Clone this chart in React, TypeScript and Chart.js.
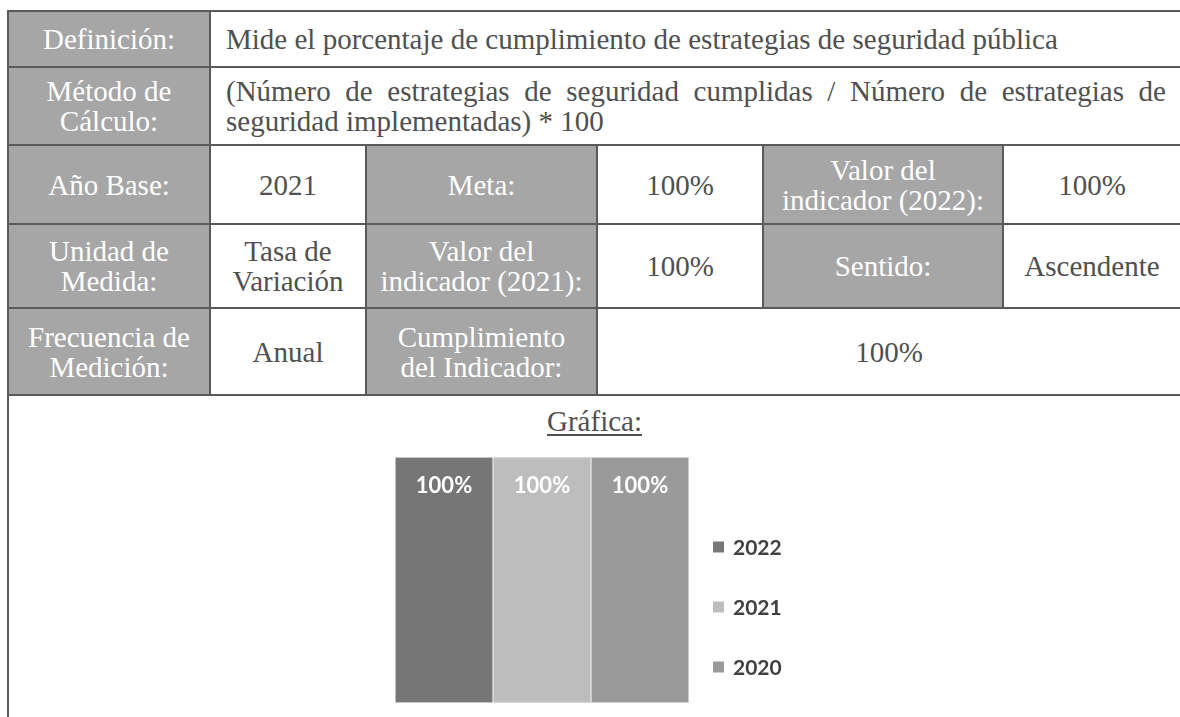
import React, { useEffect, useRef } from "react";
import { Chart, registerables } from "chart.js";

Chart.register(...registerables);

// ---- chart data ----
const categories = [""];
const seriesLabels = ["2022", "2021", "2020"];
const values2022 = [100];
const values2021 = [100];
const values2020 = [100];
const seriesColors = ["#767676", "#bdbdbd", "#9a9a9a"];

// ---- table text ----
const definicion = "Mide el porcentaje de cumplimiento de estrategias de seguridad pública";
const metodo =
  "(Número de estrategias de seguridad cumplidas / Número de estrategias de seguridad implementadas) * 100";

const LINE = "#5a5a5a";
const HEAD = "#a6a6a6";
const TXT = "#505050";
const FONT = "'Liberation Serif', serif";
const FS = 29;
const LH = "30px";

const valueLabelPlugin = {
  id: "valueLabels",
  afterDatasetsDraw(chart: any) {
    const ctx = chart.ctx;
    ctx.save();
    ctx.font = "bold 22px Lato";
    ctx.fillStyle = "#ffffff";
    ctx.textAlign = "center";
    ctx.textBaseline = "middle";
    chart.data.datasets.forEach((ds: any, i: number) => {
      const meta = chart.getDatasetMeta(i);
      meta.data.forEach((bar: any, j: number) => {
        ctx.fillText(ds.data[j] + "%", bar.x, bar.y + 29);
      });
    });
    ctx.restore();
  },
};

const sideLegendPlugin = {
  id: "sideLegend",
  afterDraw(chart: any) {
    const { ctx, chartArea } = chart;
    ctx.save();
    const x = chartArea.right + 24;
    const y0 = chartArea.top + 90;
    chart.data.datasets.forEach((ds: any, i: number) => {
      const y = y0 + i * 60;
      ctx.fillStyle = ds.backgroundColor;
      ctx.fillRect(x, y - 5.5, 11, 11);
      ctx.fillStyle = "#404040";
      ctx.font = "bold 21px Lato";
      ctx.textBaseline = "middle";
      ctx.textAlign = "left";
      ctx.fillText(ds.label, x + 20, y + 1);
    });
    ctx.restore();
  },
};

function BarChart() {
  const ref = useRef<HTMLCanvasElement>(null);
  useEffect(() => {
    if (!ref.current) return;
    const series = [values2022, values2021, values2020];
    const chart = new Chart(ref.current, {
      type: "bar",
      data: {
        labels: categories,
        datasets: series.map((vals, i) => ({
          label: seriesLabels[i],
          data: vals,
          backgroundColor: seriesColors[i],
          borderColor: "#e4e4e4",
          borderWidth: 1,
          borderSkipped: false,
          barPercentage: 1,
          categoryPercentage: 1,
        })),
      },
      options: {
        animation: false,
        responsive: false,
        maintainAspectRatio: false,
        layout: { padding: { left: 0, right: 126, top: 0, bottom: 0 } },
        plugins: {
          legend: { display: false },
          tooltip: { enabled: false },
        },
        scales: {
          x: { display: false },
          y: { display: false, min: 0, max: 100 },
        },
      },
      plugins: [valueLabelPlugin, sideLegendPlugin],
    });
    return () => chart.destroy();
  }, []);
  return (
    <canvas
      ref={ref}
      width={420}
      height={246}
      style={{ position: "absolute", left: 395, top: 457, width: 420, height: 246 }}
    />
  );
}

type CellProps = {
  x1: number;
  x2: number;
  y1: number;
  y2: number;
  head?: boolean;
  children: React.ReactNode;
};

function Cell({ x1, x2, y1, y2, head, children }: CellProps) {
  return (
    <div
      style={{
        position: "absolute",
        left: x1,
        top: y1,
        width: x2 - x1,
        height: y2 - y1,
        background: head ? HEAD : "#ffffff",
        color: head ? "#ffffff" : TXT,
        display: "flex",
        alignItems: "center",
        justifyContent: "center",
        textAlign: "center",
        fontFamily: FONT,
        fontSize: FS,
        lineHeight: LH,
        whiteSpace: "nowrap",
      }}
    >
      <div>{children}</div>
    </div>
  );
}

function HLine({ y, x1, x2 }: { y: number; x1: number; x2: number }) {
  return (
    <div style={{ position: "absolute", left: x1 - 1, top: y - 1, width: x2 - x1 + 2, height: 2, background: LINE }} />
  );
}
function VLine({ x, y1, y2 }: { x: number; y1: number; y2: number }) {
  return (
    <div style={{ position: "absolute", left: x - 1, top: y1 - 1, width: 2, height: y2 - y1 + 2, background: LINE }} />
  );
}

export default function App() {
  const X = [8, 210, 366, 597, 763, 1003, 1181];
  const Y = [11, 67, 145, 224, 308, 395, 740];
  return (
    <div
      style={{
        position: "absolute",
        left: 0,
        top: 0,
        width: 1180,
        height: 717,
        overflow: "hidden",
        background: "#ffffff",
      }}
    >
      {/* row 1 */}
      <Cell x1={X[0]} x2={X[1]} y1={Y[0]} y2={Y[1]} head>Definición:</Cell>
      <div
        style={{
          position: "absolute",
          left: 226,
          top: Y[0],
          width: 940,
          height: Y[1] - Y[0],
          display: "flex",
          alignItems: "center",
          fontFamily: FONT,
          fontSize: FS,
          color: TXT,
          whiteSpace: "nowrap",
        }}
      >
        {definicion}
      </div>
      {/* row 2 */}
      <Cell x1={X[0]} x2={X[1]} y1={Y[1]} y2={Y[2]} head>
        Método de<br />Cálculo:
      </Cell>
      <div
        style={{
          position: "absolute",
          left: 226,
          top: Y[1],
          width: 940,
          height: Y[2] - Y[1],
          display: "flex",
          alignItems: "center",
          fontFamily: FONT,
          fontSize: FS,
          lineHeight: LH,
          color: TXT,
        }}
      >
        <div style={{ textAlign: "justify", textAlignLast: "left", width: "100%" }}>{metodo}</div>
      </div>
      {/* row 3 */}
      <Cell x1={X[0]} x2={X[1]} y1={Y[2]} y2={Y[3]} head>Año Base:</Cell>
      <Cell x1={X[1]} x2={X[2]} y1={Y[2]} y2={Y[3]}>2021</Cell>
      <Cell x1={X[2]} x2={X[3]} y1={Y[2]} y2={Y[3]} head>Meta:</Cell>
      <Cell x1={X[3]} x2={X[4]} y1={Y[2]} y2={Y[3]}>100%</Cell>
      <Cell x1={X[4]} x2={X[5]} y1={Y[2]} y2={Y[3]} head>
        Valor del<br />indicador (2022):
      </Cell>
      <Cell x1={X[5]} x2={X[6]} y1={Y[2]} y2={Y[3]}>100%</Cell>
      {/* row 4 */}
      <Cell x1={X[0]} x2={X[1]} y1={Y[3]} y2={Y[4]} head>
        Unidad de<br />Medida:
      </Cell>
      <Cell x1={X[1]} x2={X[2]} y1={Y[3]} y2={Y[4]}>
        Tasa de<br />Variación
      </Cell>
      <Cell x1={X[2]} x2={X[3]} y1={Y[3]} y2={Y[4]} head>
        Valor del<br />indicador (2021):
      </Cell>
      <Cell x1={X[3]} x2={X[4]} y1={Y[3]} y2={Y[4]}>100%</Cell>
      <Cell x1={X[4]} x2={X[5]} y1={Y[3]} y2={Y[4]} head>Sentido:</Cell>
      <Cell x1={X[5]} x2={X[6]} y1={Y[3]} y2={Y[4]}>Ascendente</Cell>
      {/* row 5 */}
      <Cell x1={X[0]} x2={X[1]} y1={Y[4]} y2={Y[5]} head>
        Frecuencia de<br />Medición:
      </Cell>
      <Cell x1={X[1]} x2={X[2]} y1={Y[4]} y2={Y[5]}>Anual</Cell>
      <Cell x1={X[2]} x2={X[3]} y1={Y[4]} y2={Y[5]} head>
        Cumplimiento<br />del Indicador:
      </Cell>
      <Cell x1={X[3]} x2={X[6]} y1={Y[4]} y2={Y[5]}>100%</Cell>
      {/* row 6 */}
      <div
        style={{
          position: "absolute",
          left: X[0],
          top: 407,
          width: X[6] - X[0],
          textAlign: "center",
          fontFamily: FONT,
          fontSize: FS,
          lineHeight: "29px",
          color: TXT,
        }}
      >
        <span style={{ textDecoration: "underline", textUnderlineOffset: 3 }}>Gráfica:</span>
      </div>
      <BarChart />
      {/* grid lines */}
      {Y.slice(0, 6).map((y) => (
        <HLine key={"h" + y} y={y} x1={X[0]} x2={X[6]} />
      ))}
      <VLine x={X[0]} y1={Y[0]} y2={Y[6]} />
      <VLine x={X[6]} y1={Y[0]} y2={Y[6]} />
      <VLine x={X[1]} y1={Y[0]} y2={Y[5]} />
      <VLine x={X[2]} y1={Y[2]} y2={Y[5]} />
      <VLine x={X[3]} y1={Y[2]} y2={Y[5]} />
      <VLine x={X[4]} y1={Y[2]} y2={Y[4]} />
      <VLine x={X[5]} y1={Y[2]} y2={Y[4]} />
    </div>
  );
}
